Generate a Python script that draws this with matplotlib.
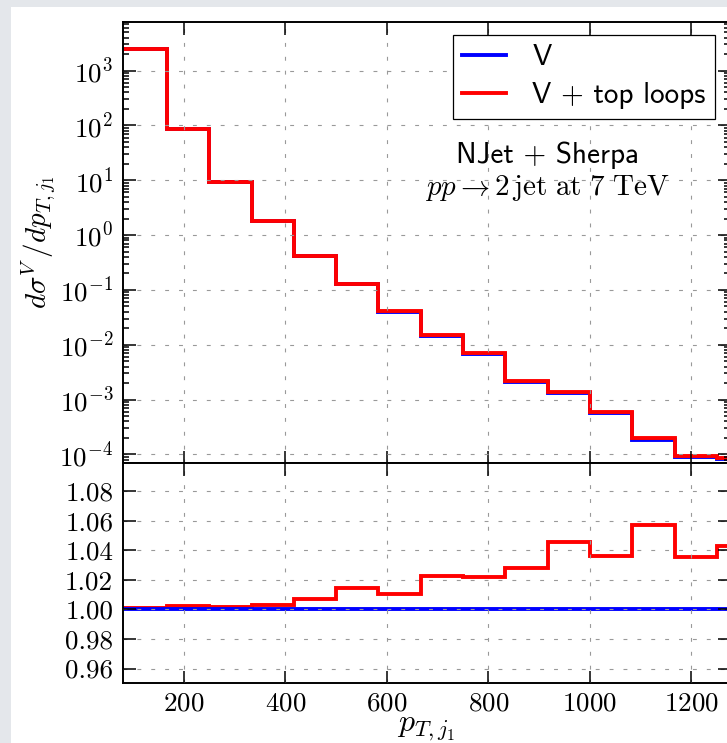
import matplotlib
matplotlib.use('Agg')
import matplotlib.pyplot as plt
from matplotlib.patches import Rectangle
import numpy as np

plt.rcParams['font.family'] = ['cmr10', 'DejaVu Serif']
plt.rcParams['mathtext.fontset'] = 'cm'
plt.rcParams['axes.formatter.use_mathtext'] = True
plt.rcParams['axes.unicode_minus'] = False

# bin edges in p_T (GeV)
edges = [80, 166.7, 250, 333.3, 416.7, 500, 583.3, 666.7, 750, 833.3,
         916.7, 1000, 1083.3, 1166.7, 1250, 1333.3]
# V + top loops differential cross section
xs_top = [2450, 87, 9.3, 1.8, 0.414, 0.130, 0.0405, 0.0148, 0.00703,
          0.00216, 0.00136, 5.97e-4, 1.95e-4, 9.2e-5, 8.5e-5]
# ratio (V + top loops) / V
ratio = [1.0008, 1.0022, 1.0015, 1.0032, 1.0070, 1.0144, 1.0104, 1.0225,
         1.0221, 1.0282, 1.0455, 1.0365, 1.0570, 1.0354, 1.0428]
xs_v = list(np.array(xs_top) / np.array(ratio))
ones = [1.0] * len(ratio)

blue = '#0000ff'
red = '#ff0000'
fs = 19.5

fig = plt.figure(figsize=(7.27, 7.43), dpi=100)
fig.patch.set_facecolor('#e4e7eb')
fig.patches.append(Rectangle((11/727, 0), 1, 1 - 7/743, transform=fig.transFigure,
                             facecolor='white', edgecolor='none', zorder=-10))

left = 123/727
width = 730/727 - left
top_b = 1 - 463.3/743
ax1 = fig.add_axes([left, top_b, width, (1 - 21.7/743) - top_b])
bot_b = 1 - 683.3/743
ax2 = fig.add_axes([left, bot_b, width, top_b - bot_b], sharex=ax1)

ax1.stairs(xs_v, edges, color=blue, lw=2.8, baseline=None, label='V')
ax1.stairs(xs_top, edges, color=red, lw=2.8, baseline=None, label='V + top loops')
ax1.set_yscale('log')
ax1.set_ylim(6.86e-5, 7.8e3)
ax1.set_xlim(80, 1276)

ax2.stairs(ratio, edges, color=red, lw=2.8, baseline=None)
ax2.stairs(ones, edges, color=blue, lw=2.8, baseline=None)
ax2.set_ylim(0.95, 1.099)
ax2.set_yticks([0.96, 0.98, 1.00, 1.02, 1.04, 1.06, 1.08])
ax2.yaxis.set_major_formatter(matplotlib.ticker.FormatStrFormatter('%.2f'))
ax2.set_xticks([200, 400, 600, 800, 1000, 1200])

for ax in (ax1, ax2):
    ax.set_axisbelow(False)
    ax.grid(True, which='major', color='0.6', lw=0.8, linestyle=(0, (3.5, 9)))
    ax.tick_params(which='both', direction='in', top=True, right=True,
                   labelsize=fs, width=1.1)
    ax.tick_params(which='major', length=9, pad=7)
    ax.tick_params(which='minor', length=4.5)
    for s in ax.spines.values():
        s.set_linewidth(1.4)
ax1.tick_params(axis='x', labelbottom=False)
ax2.tick_params(axis='x', pad=6)

ax1.set_ylabel(r'$d\sigma^V\,/dp_{T,j_1}$', fontsize=21, labelpad=2)
ax2.set_xlabel(r'$p_{T,j_1}$', fontsize=23, labelpad=0)

leg = ax1.legend(loc='upper right', bbox_to_anchor=(715/727, 1 - 35/743),
                 bbox_transform=fig.transFigure, borderaxespad=0,
                 prop={'family': 'cmss10', 'size': 21}, fancybox=False,
                 framealpha=1, edgecolor='black', handlelength=1.5,
                 handletextpad=0.9, labelspacing=0.38, borderpad=0.32)
leg.get_frame().set_linewidth(0.9)

ax1.text(548/727, 1 - 155/743, 'NJet + Sherpa', transform=fig.transFigure,
         ha='center', va='center', fontsize=21, family='cmss10')
ax1.text(548/727, 1 - 188/743, r'$pp \rightarrow 2\,\mathrm{jet\ at\ 7\ TeV}$',
         transform=fig.transFigure, ha='center', va='center', fontsize=21)

fig.savefig('out.png', dpi=100, facecolor=fig.get_facecolor())
